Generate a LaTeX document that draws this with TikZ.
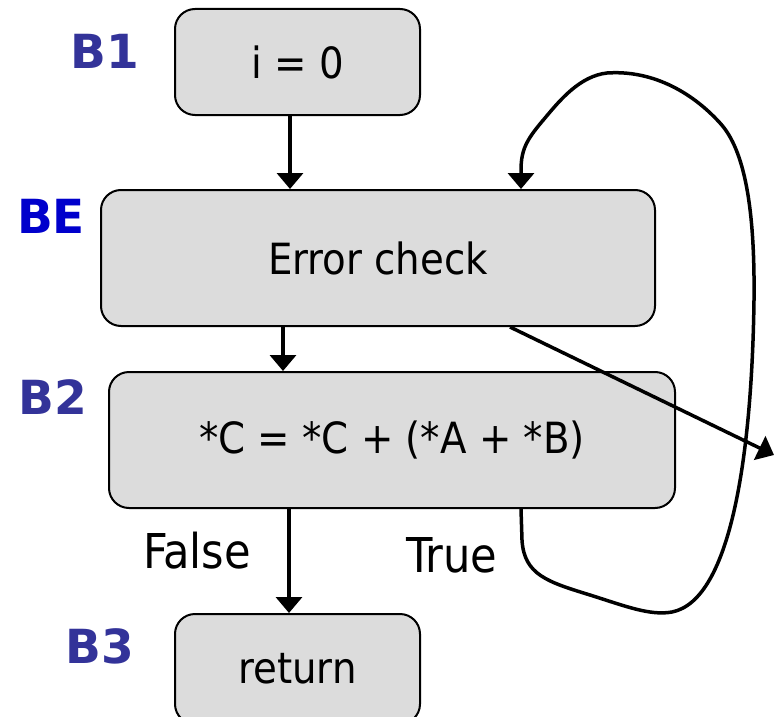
\documentclass[tikz,border=0pt]{standalone}
\usepackage{fontspec}
\setmainfont{DejaVu Sans}
\newfontfamily\narrowfont{DejaVu Sans Condensed}
\usetikzlibrary{arrows.meta}

\definecolor{boxgray}{RGB}{220,220,220}
\definecolor{tagblue}{RGB}{51,51,153}
\definecolor{errblue}{RGB}{0,0,204}

\tikzset{
  block/.style={draw, fill=boxgray, line width=2pt, rounded corners=20pt,
    inner sep=0pt, font=\narrowfont\fontsize{43}{48}\selectfont},
  tag/.style={font=\bfseries\fontsize{47}{50}\selectfont, text=tagblue},
  cond/.style={font=\narrowfont\fontsize{48}{54}\selectfont},
  flow/.style={line width=3.5pt, -{Triangle[width=26pt,length=16pt]}}
}

\begin{document}
\begin{tikzpicture}[x=1pt,y=-1pt]
  \useasboundingbox (0,0) rectangle (779,717);

  % basic blocks
  \node[block, minimum width=245, minimum height=106] (b1) at (297.5,62) {i = 0};
  \node[block, minimum width=554, minimum height=136] (be) at (378,258) {Error check};
  \node[block, minimum width=566, minimum height=136] (b2) at (392,440) {*C = *C + (*A + *B)};
  \node[block, minimum width=245, minimum height=110] (b3) at (297.5,669) {return};

  % block names
  \node[tag] (tb1) at (105,51) {B1};
  \node[tag, text=errblue] (tbe) at (51,216) {BE};
  \node[tag] (tb2) at (53,397) {B2};
  \node[tag] (tb3) at (100,646) {B3};

  % branch labels
  \node[cond] (nfalse) at (197,551) {False};
  \node[cond] (ntrue) at (452,555) {True};

  % x positions of the connectors
  \coordinate (x1) at (290,0);
  \coordinate (x2) at (283,0);
  \coordinate (x3) at (289,0);
  \coordinate (xout) at (510,0);
  \coordinate (xloop) at (521,0);
  \coordinate (exit) at (774,455);

  \draw[flow] (b1.south -| x1) -- (be.north -| x1);
  \draw[flow] (be.south -| x2) -- (b2.north -| x2);
  \draw[flow] (b2.south -| x3) -- (b3.north -| x3);
  \draw[flow] (be.south -| xout) -- (exit);

  % back edge from B2 to the error check
  \draw[flow] (b2.south -| xloop) -- (522,540)
    .. controls (524,575) and (548,582) .. (590,595)
    .. controls (625,606) and (650,616) .. (672,612)
    .. controls (732,600) and (752,450) .. (754,300)
    .. controls (755,210) and (745,150) .. (720,123)
    .. controls (690,90) and (650,70) .. (607,73)
    .. controls (580,76) and (560,100) .. (545,118)
    .. controls (528,138) and (521,148) .. (521,170)
    -- (be.north -| xloop);
\end{tikzpicture}
\end{document}
